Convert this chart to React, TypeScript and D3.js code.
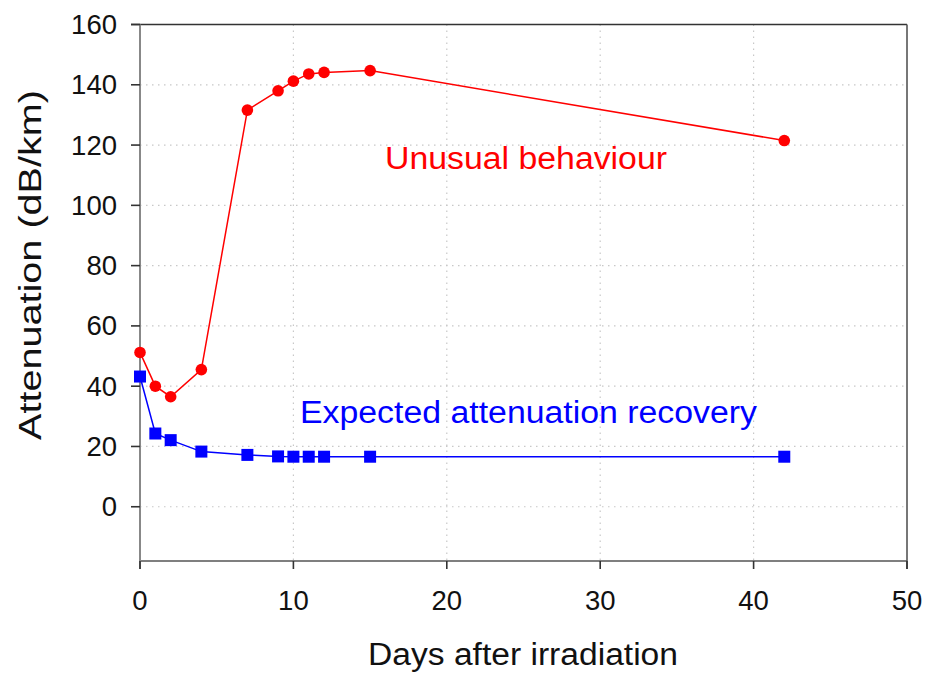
import React from "react";
import * as d3 from "d3";

const days = [0, 1, 2, 4, 7, 9, 10, 11, 12, 15, 42];
const unusual = [51.2, 40, 36.5, 45.5, 131.6, 138, 141.2, 143.6, 144.1, 144.7, 121.5];
const expected = [43.2, 24.3, 22.1, 18.3, 17.2, 16.7, 16.6, 16.6, 16.6, 16.6, 16.6];
const xTicks = [0, 10, 20, 30, 40, 50];
const yTicks = [0, 20, 40, 60, 80, 100, 120, 140, 160];

const W = 931;
const H = 673;
const left = 140, right = 907, top = 24.5, bottom = 561;

export default function App() {
  const x = d3.scaleLinear().domain([0, 50]).range([left, right]);
  const y = d3.scaleLinear().domain([-18, 160]).range([bottom, top]);
  const line = d3.line<number>().x((_, i) => x(days[i])).y((v) => y(v));
  const font = "'Liberation Sans', Arial, sans-serif";
  return (
    <svg width={W} height={H} style={{ position: "absolute", left: 0, top: 0, background: "#fff" }}>
      {/* grid */}
      {xTicks.filter((t) => t > 0 && t < 50).map((t) => (
        <line key={"gx" + t} x1={x(t)} x2={x(t)} y1={top} y2={bottom} stroke="#c8c8c8" strokeWidth={1.2} strokeDasharray="1.5,4.5" />
      ))}
      {yTicks.filter((t) => t < 160).map((t) => (
        <line key={"gy" + t} x1={left} x2={right} y1={y(t)} y2={y(t)} stroke="#c8c8c8" strokeWidth={1.2} strokeDasharray="1.5,4.5" />
      ))}
      {/* frame */}
      <line x1={left - 9} x2={right} y1={top} y2={top} stroke="#333" strokeWidth={1.6} />
      <line x1={right} x2={right} y1={top} y2={bottom + 8} stroke="#555" strokeWidth={1.6} />
      <line x1={left} x2={right} y1={bottom} y2={bottom} stroke="#555" strokeWidth={1.6} />
      <line x1={left} x2={left} y1={top} y2={bottom + 8} stroke="#888" strokeWidth={2} />
      {yTicks.map((t) => (
        <g key={"ty" + t}>
          <line x1={left - 9} x2={left} y1={y(t)} y2={y(t)} stroke="#333" strokeWidth={1.6} />
          <text x={117} y={y(t) + 9.5} textAnchor="end" fontFamily={font} fontSize={27.5} fill="#111">{t}</text>
        </g>
      ))}
      {xTicks.map((t) => (
        <g key={"tx" + t}>
          <line x1={x(t)} x2={x(t)} y1={bottom} y2={bottom + 8} stroke="#333" strokeWidth={1.6} />
          <text x={x(t)} y={610} textAnchor="middle" fontFamily={font} fontSize={27.5} fill="#111">{t}</text>
        </g>
      ))}
      {/* series */}
      <path d={line(unusual) || ""} fill="none" stroke="#ff0000" strokeWidth={1.5} />
      <path d={line(expected) || ""} fill="none" stroke="#0000ff" strokeWidth={1.5} />
      {unusual.map((v, i) => (
        <circle key={"c" + i} cx={x(days[i])} cy={y(v)} r={5.8} fill="#ff0000" />
      ))}
      {expected.map((v, i) => (
        <rect key={"s" + i} x={x(days[i]) - 6} y={y(v) - 6} width={12} height={12} fill="#0000ff" />
      ))}
      {/* annotations */}
      <text x={385} y={169} fontFamily={font} fontSize={31} fill="#ff0000" textLength={282} lengthAdjust="spacingAndGlyphs">Unusual behaviour</text>
      <text x={300} y={423} fontFamily={font} fontSize={31} fill="#0000ff" textLength={457} lengthAdjust="spacingAndGlyphs">Expected attenuation recovery</text>
      {/* axis titles */}
      <text x={368} y={665} fontFamily={font} fontSize={31} fill="#111" textLength={310} lengthAdjust="spacingAndGlyphs">Days after irradiation</text>
      <text transform="translate(41,440) rotate(-90)" fontFamily={font} fontSize={32} fill="#111" textLength={350} lengthAdjust="spacingAndGlyphs">Attenuation (dB/km)</text>
    </svg>
  );
}
